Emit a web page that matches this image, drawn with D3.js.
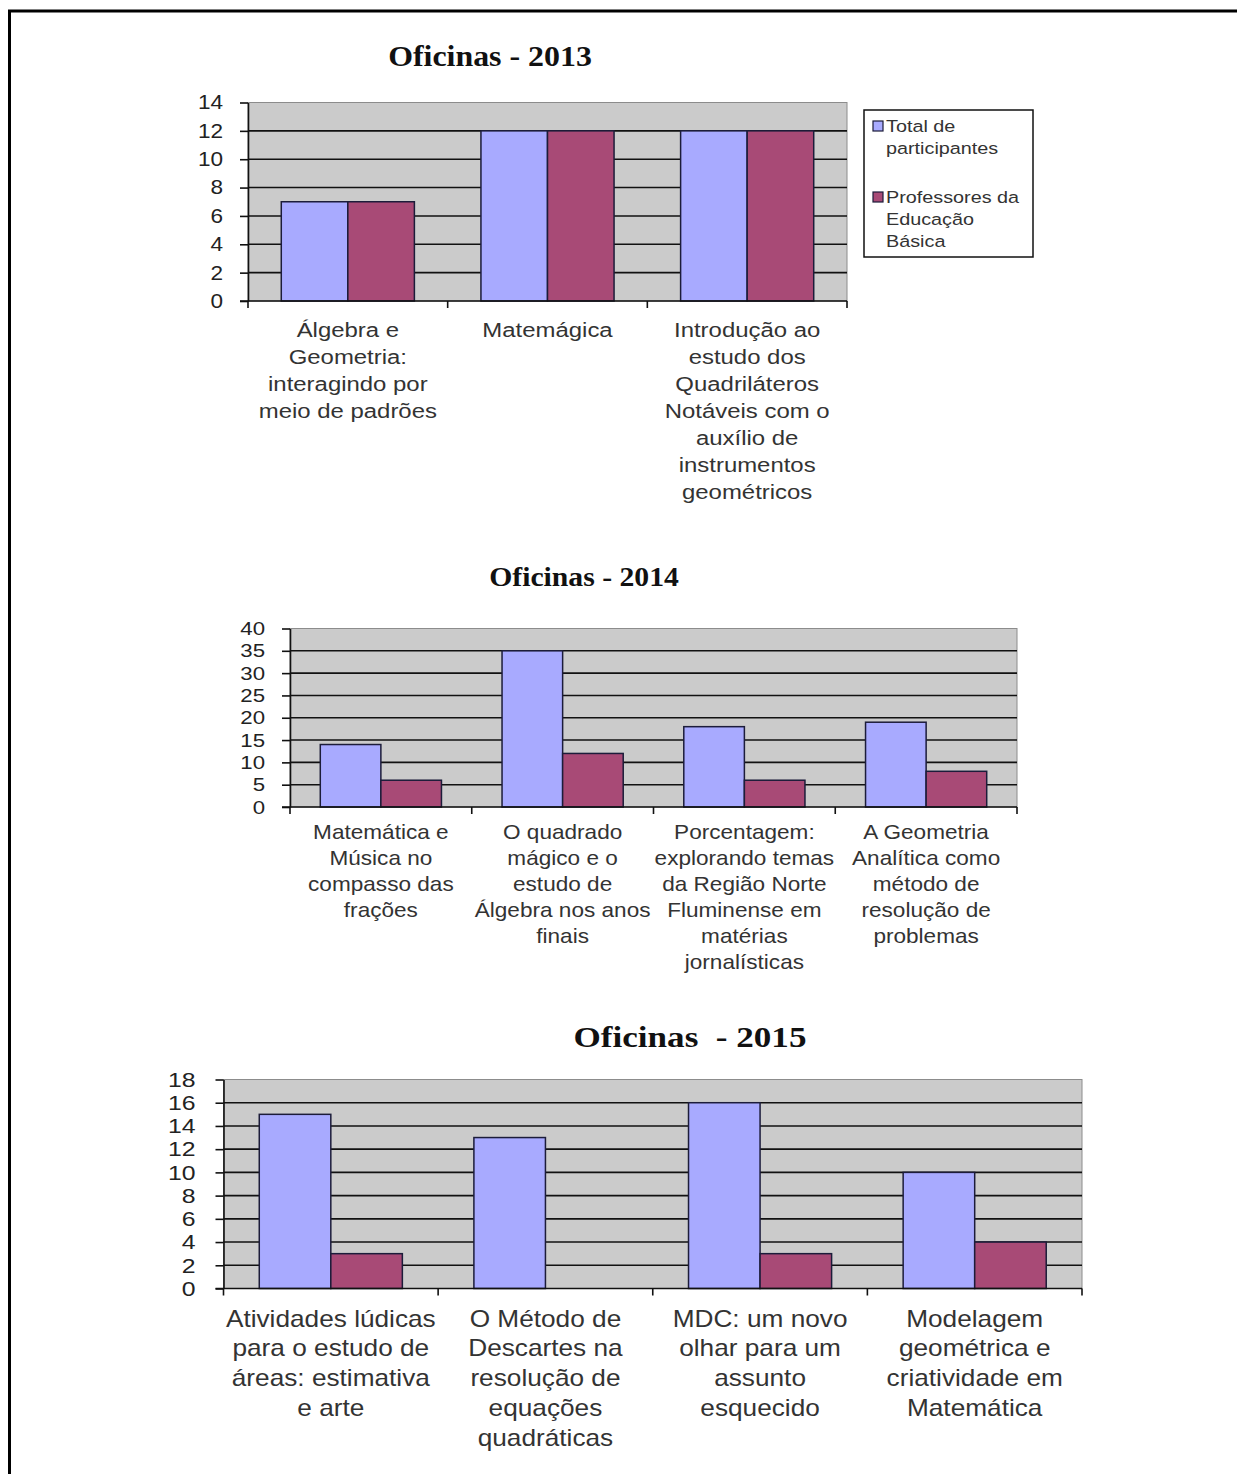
<!DOCTYPE html>
<html>
<head>
<meta charset="utf-8">
<script src="https://cdn.jsdelivr.net/npm/d3@7"></script>
<style>
  body { margin: 0; background: #fff; }
  svg { display: block; }
  .tick-lbl { font-family: "Liberation Sans", Arial, sans-serif; fill: #222; }
  .cat-lbl { font-family: "Liberation Sans", Arial, sans-serif; fill: #333; }
  .title { font-family: "Liberation Serif", "Times New Roman", serif; font-weight: bold; fill: #111; }
</style>
</head>
<body>
<div id="chart"></div>
<script>
// DATA
const series = ["Total de participantes", "Professores da Educação Básica"];
const colors = ["#a8aaff", "#a84a76"];

const cats2013 = [
  ["Álgebra e", "Geometria:", "interagindo por", "meio de padrões"],
  ["Matemágica"],
  ["Introdução ao", "estudo dos", "Quadriláteros", "Notáveis com o", "auxílio de", "instrumentos", "geométricos"]
];
const total2013 = [7, 12, 12];
const prof2013 = [7, 12, 12];
const ticks2013 = [0, 2, 4, 6, 8, 10, 12, 14];

const cats2014 = [
  ["Matemática e", "Música no", "compasso das", "frações"],
  ["O quadrado", "mágico e o", "estudo de", "Álgebra nos anos", "finais"],
  ["Porcentagem:", "explorando temas", "da Região Norte", "Fluminense em", "matérias", "jornalísticas"],
  ["A Geometria", "Analítica como", "método de", "resolução de", "problemas"]
];
const total2014 = [14, 35, 18, 19];
const prof2014 = [6, 12, 6, 8];
const ticks2014 = [0, 5, 10, 15, 20, 25, 30, 35, 40];

const cats2015 = [
  ["Atividades lúdicas", "para o estudo de", "áreas: estimativa", "e arte"],
  ["O Método de", "Descartes na", "resolução de", "equações", "quadráticas"],
  ["MDC: um novo", "olhar para um", "assunto", "esquecido"],
  ["Modelagem", "geométrica e", "criatividade em", "Matemática"]
];
const total2015 = [15, 13, 16, 10];
const prof2015 = [3, 0, 3, 4];
const ticks2015 = [0, 2, 4, 6, 8, 10, 12, 14, 16, 18];

const W = 1237, H = 1474;
const svg = d3.select("#chart").append("svg").attr("width", W).attr("height", H);

// page frame (top and left lines)
svg.append("line").attr("x1", 8).attr("x2", W).attr("y1", 11).attr("y2", 11)
  .attr("stroke", "#000").attr("stroke-width", 3);
svg.append("line").attr("x1", 9.5).attr("x2", 9.5).attr("y1", 10).attr("y2", H)
  .attr("stroke", "#000").attr("stroke-width", 3);

// the source picture is a bit stretched sideways, so text gets a small x-scale
function wideText(parent, x, y, sx) {
  return parent.append("text")
    .attr("transform", "translate(" + x + "," + y + ") scale(" + sx + ",1)");
}

function drawChart(cfg) {
  const g = svg.append("g");
  const cats = cfg.cats.map((d, i) => "c" + i);

  const x = d3.scaleBand().domain(cats).range([cfg.left, cfg.right]).padding(0);
  const xs = d3.scaleBand().domain(series).range([0, x.bandwidth()])
    .paddingInner(0).paddingOuter(0.5);
  const y = d3.scaleLinear().domain([0, d3.max(cfg.ticks)]).range([cfg.bottom, cfg.top]);

  // plot area
  g.append("rect")
    .attr("x", cfg.left).attr("y", cfg.top)
    .attr("width", cfg.right - cfg.left).attr("height", cfg.bottom - cfg.top)
    .attr("fill", "#cbcbcb").attr("stroke", "#8c8c8c").attr("stroke-width", 1);

  // gridlines
  g.selectAll(".grid").data(cfg.ticks.filter(t => t > 0 && t < d3.max(cfg.ticks)))
    .enter().append("line")
    .attr("x1", cfg.left).attr("x2", cfg.right)
    .attr("y1", d => y(d)).attr("y2", d => y(d))
    .attr("stroke", "#111").attr("stroke-width", 1.6);

  // bars
  const rows = cats.map((c, i) => [
    { cat: c, s: series[0], v: cfg.total[i], col: colors[0] },
    { cat: c, s: series[1], v: cfg.prof[i], col: colors[1] }
  ]).flat().filter(d => d.v > 0);

  g.selectAll(".bar").data(rows).enter().append("rect")
    .attr("class", "bar")
    .attr("x", d => x(d.cat) + xs(d.s))
    .attr("y", d => y(d.v))
    .attr("width", xs.bandwidth())
    .attr("height", d => y(0) - y(d.v))
    .attr("fill", d => d.col)
    .attr("stroke", "#1c1c3a").attr("stroke-width", 1.5);

  // y axis
  const ya = g.append("g").attr("transform", "translate(" + cfg.left + ",0)")
    .call(d3.axisLeft(y).tickValues(cfg.ticks).tickSize(8).tickPadding(cfg.tickPad).tickSizeOuter(0));
  ya.select(".domain").attr("stroke", "#111").attr("stroke-width", 1.6);
  ya.selectAll(".tick line").attr("stroke", "#111").attr("stroke-width", 1.6);
  ya.selectAll(".tick text").attr("class", "tick-lbl")
    .attr("font-size", cfg.tickFont + "px").attr("fill", "#222")
    .attr("x", -(8 + cfg.tickPad) / cfg.tickSx)
    .attr("transform", "scale(" + cfg.tickSx + ",1)");

  // x axis
  const xa = g.append("g").attr("transform", "translate(0," + cfg.bottom + ")");
  xa.append("line").attr("x1", cfg.left - 8).attr("x2", cfg.right)
    .attr("stroke", "#111").attr("stroke-width", 1.6);
  const bounds = cats.map(c => x(c)).concat([cfg.right]);
  xa.selectAll(".xt").data(bounds).enter().append("line")
    .attr("x1", d => d).attr("x2", d => d).attr("y1", 0).attr("y2", 7)
    .attr("stroke", "#111").attr("stroke-width", 1.6);

  // category labels
  cats.forEach((c, i) => {
    const t = wideText(g, x(c) + x.bandwidth() / 2, cfg.bottom + cfg.catOffset, cfg.catSx)
      .attr("class", "cat-lbl")
      .attr("font-size", cfg.catFont + "px")
      .attr("text-anchor", "middle");
    cfg.cats[i].forEach((line, j) => {
      t.append("tspan").attr("x", 0)
        .attr("dy", j === 0 ? 0 : cfg.catLine).text(line);
    });
  });

  // title
  wideText(g, cfg.titleX, cfg.titleY, cfg.titleSx)
    .attr("class", "title")
    .attr("text-anchor", "middle")
    .attr("font-size", cfg.titleFont + "px")
    .style("white-space", "pre")
    .text(cfg.title);
}

drawChart({
  title: "Oficinas - 2013", titleX: 490, titleY: 66, titleFont: 29, titleSx: 1.1,
  cats: cats2013, total: total2013, prof: prof2013, ticks: ticks2013,
  left: 248, right: 847, top: 102.5, bottom: 301,
  tickFont: 20, tickPad: 17, tickSx: 1.13,
  catFont: 21, catSx: 1.14, catOffset: 36, catLine: 27
});

drawChart({
  title: "Oficinas - 2014", titleX: 584, titleY: 586, titleFont: 27, titleSx: 1.1,
  cats: cats2014, total: total2014, prof: prof2014, ticks: ticks2014,
  left: 290, right: 1017, top: 628.5, bottom: 807,
  tickFont: 19, tickPad: 17, tickSx: 1.17,
  catFont: 20, catSx: 1.13, catOffset: 32, catLine: 26
});

drawChart({
  title: "Oficinas  - 2015", titleX: 690, titleY: 1047, titleFont: 30, titleSx: 1.17,
  cats: cats2015, total: total2015, prof: prof2015, ticks: ticks2015,
  left: 223.5, right: 1082, top: 1079.5, bottom: 1288.5,
  tickFont: 21, tickPad: 20, tickSx: 1.18,
  catFont: 23, catSx: 1.14, catOffset: 38, catLine: 30
});

// legend (2013 chart)
const lg = svg.append("g");
lg.append("rect").attr("x", 864).attr("y", 110).attr("width", 169).attr("height", 147)
  .attr("fill", "#fff").attr("stroke", "#111").attr("stroke-width", 1.5);
const legendLines = [["Total de", "participantes"], ["Professores da", "Educação", "Básica"]];
const legendY = [132, 203];
series.forEach((s, i) => {
  lg.append("rect").attr("x", 873).attr("y", legendY[i] - 11).attr("width", 10).attr("height", 10)
    .attr("fill", colors[i]).attr("stroke", "#1c1c3a").attr("stroke-width", 1.2);
  const t = wideText(lg, 886, legendY[i], 1.2).attr("class", "cat-lbl").attr("font-size", "16.5px");
  legendLines[i].forEach((line, j) => {
    t.append("tspan").attr("x", 0).attr("dy", j === 0 ? 0 : 22).text(line);
  });
});
</script>
</body>
</html>
